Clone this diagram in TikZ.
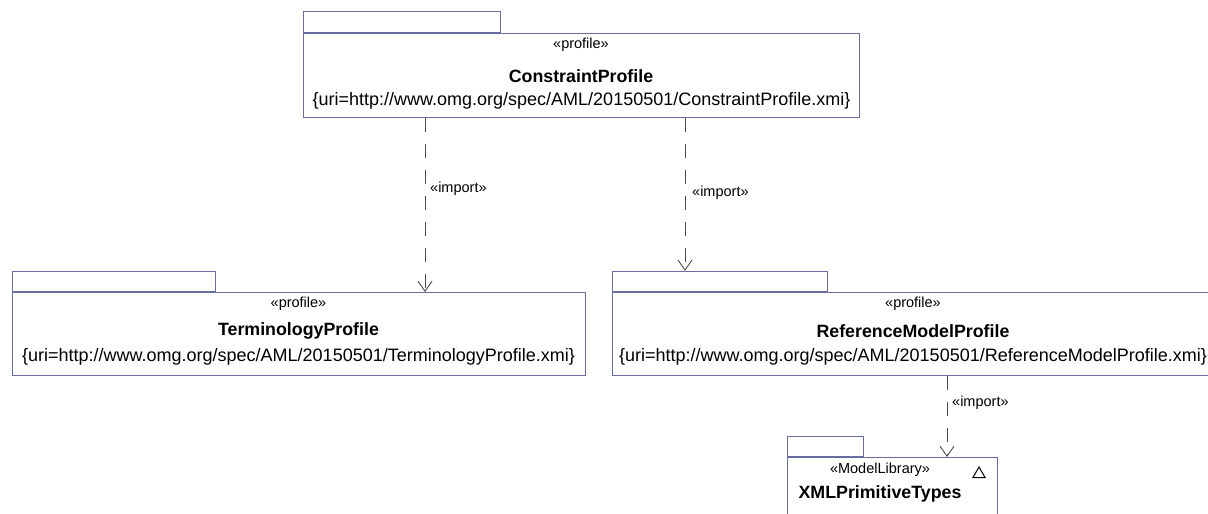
\documentclass[tikz,border=0pt]{standalone}
\usepackage{fontspec}
\setmainfont{Liberation Sans}
\usetikzlibrary{arrows.meta,calc,shapes.geometric}
\definecolor{pkgc}{RGB}{105,110,160}
\definecolor{arrc}{RGB}{75,75,75}
\tikzset{
  pkg/.style={draw=pkgc, line width=1.2pt, inner sep=0pt, fill=white, anchor=north west},
  tab/.style={draw=pkgc, line width=1.2pt, inner sep=0pt, fill=white, anchor=south west},
  stereo/.style={font=\fontsize{14.5}{16}\selectfont, inner sep=0pt},
  pname/.style={font=\fontsize{17.8}{20}\selectfont\bfseries, inner sep=0pt},
  uri/.style={font=\fontsize{18}{20}\selectfont, inner sep=0pt},
  imp/.style={draw=arrc, line width=0.9pt, dash pattern=on 14pt off 12pt, -{Straight Barb[length=10pt,width=14pt,line width=0.9pt]}},
  implabel/.style={font=\fontsize{14.5}{16}\selectfont, inner sep=0pt, anchor=west}
}
\begin{document}
\begin{tikzpicture}[x=1pt,y=-1pt]
\useasboundingbox (0,0) rectangle (1208,514);
\clip (0,0) rectangle (1208,514);
% ConstraintProfile
\node[pkg, minimum width=556pt, minimum height=84pt] (cp) at (303,33) {};
\node[tab, minimum width=197pt, minimum height=21pt] (cpt) at (cp.north west) {};
\node[stereo] (cps) at (581,45) {«profile»};
\node[pname] (cpn) at (581,76) {ConstraintProfile};
\node[uri] (cpu) at (581.5,101) {\{uri=http://www.omg.org/spec/AML/20150501/ConstraintProfile.xmi\}};
% TerminologyProfile
\node[pkg, minimum width=573pt, minimum height=83pt] (tp) at (12,292) {};
\node[tab, minimum width=203pt, minimum height=20pt] (tpt) at (tp.north west) {};
\node[stereo] (tps) at (298.5,304) {«profile»};
\node[pname] (tpn) at (298.5,331) {TerminologyProfile};
\node[uri] (tpu) at (298.5,357) {\{uri=http://www.omg.org/spec/AML/20150501/TerminologyProfile.xmi\}};
% ReferenceModelProfile
\node[pkg, minimum width=610pt, minimum height=83pt] (rp) at (612,292) {};
\node[tab, minimum width=215pt, minimum height=20pt] (rpt) at (rp.north west) {};
\node[stereo] (rps) at (913,304) {«profile»};
\node[pname] (rpn) at (913,331) {ReferenceModelProfile};
\node[uri] (rpu) at (913,357) {\{uri=http://www.omg.org/spec/AML/20150501/ReferenceModelProfile.xmi\}};
% XMLPrimitiveTypes
\node[pkg, minimum width=210pt, minimum height=70pt] (xp) at (787,457) {};
\node[tab, minimum width=76pt, minimum height=20pt] (xpt) at (xp.north west) {};
\node[stereo] (xps) at (880,470) {«ModelLibrary»};
\node[pname] (xpn) at (880,494) {XMLPrimitiveTypes};
\node[draw=black, line width=1pt, regular polygon, regular polygon sides=3, inner sep=0pt, minimum size=14pt] (xptri) at (979,474) {};
% connectors
\coordinate (a1) at (425,0);
\coordinate (a2) at (685,0);
\coordinate (a3) at (947,0);
\draw[imp] (cp.south west -| a1) -- (tp.north west -| a1);
\draw[imp] (cp.south west -| a2) -- (rpt.north west -| a2);
\draw[imp] (rp.south west -| a3) -- (xp.north west -| a3);
\node[implabel] (l1) at (430,189) {«import»};
\node[implabel] (l2) at (692,193) {«import»};
\node[implabel] (l3) at (952,403) {«import»};
\end{tikzpicture}
\end{document}
